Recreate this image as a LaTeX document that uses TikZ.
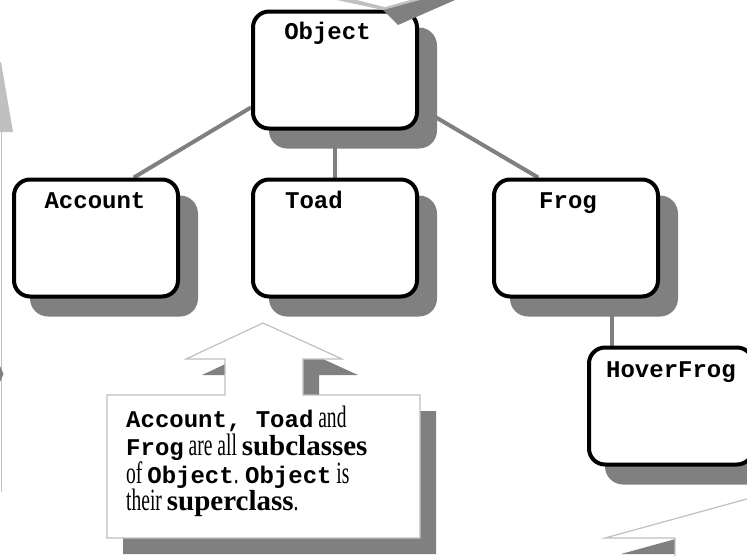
\documentclass[tikz,border=0pt]{standalone}
\usepackage{fontspec}
\usetikzlibrary{backgrounds,calc}
\newfontfamily\monofam{Liberation Mono}
\newfontfamily\cserif{Liberation Serif}[FakeStretch=0.63]
\newfontfamily\cserifb{Liberation Serif}
\newcommand\cmtt[1]{{\monofam\bfseries\fontsize{24}{28}\selectfont #1}}
\newcommand\cbfx[1]{{\cserifb\bfseries\fontsize{29}{30}\selectfont #1}}
\definecolor{shgray}{HTML}{808080}
\definecolor{ltgray}{HTML}{C0C0C0}
\tikzset{
  classbox/.style={draw=black, line width=4pt, rounded corners=16pt, fill=white,
    minimum width=164pt, minimum height=117pt, inner sep=0pt},
  shadowbox/.style={fill=shgray, draw=none, rounded corners=18pt,
    minimum width=168pt, minimum height=121pt, inner sep=0pt},
  conn/.style={draw=shgray, line width=4pt},
  classlabel/.style={font=\monofam\bfseries\fontsize{24}{28}\selectfont, anchor=base, inner sep=0pt},
  calloutshape/.style={fill=white, draw=ltgray, line width=1.2pt},
  calloutshadow/.style={fill=shgray, draw=none},
  calloutline/.style={font=\cserif\fontsize{31}{32}\selectfont, anchor=base west, inner sep=0pt},
}
\begin{document}
\begin{tikzpicture}[x=1pt,y=-1pt]
\clip (0,0) rectangle (747,555);

% class boxes
\node[classbox] (Object) at (335,70) {};
\node[classbox] (Account) at (96,238) {};
\node[classbox] (Toad) at (335,238) {};
\node[classbox] (Frog) at (576,238) {};
\node[classbox] (HoverFrog) at (671,406) {};

\begin{pgfonlayer}{background}
  \fill[white] (0,0) rectangle (747,555);
  \node[shadowbox] (sObject) at (353,88) {};
  \node[shadowbox] (sAccount) at (114,256) {};
  \node[shadowbox] (sToad) at (353,256) {};
  \node[shadowbox] (sFrog) at (594,256) {};
  \node[shadowbox] (sHoverFrog) at (689,424) {};
  \draw[conn] (Object.204) -- (Account.58);
  \draw[conn] (Object.south) -- (Toad.north);
  \draw[conn] (Object.336) -- (Frog.122);
  \draw[conn] ([xshift=36pt]Frog.south) -- ([xshift=36pt]Frog.south |- HoverFrog.north);
\end{pgfonlayer}

\node[classlabel] (lObject) at (327.5,39) {Object};
\node[classlabel] (lAccount) at (95,208) {Account};
\node[classlabel] (lToad) at (314,208) {Toad};
\node[classlabel] (lFrog) at (568,208) {Frog};
\node[classlabel] (lHoverFrog) at (671,377) {HoverFrog};

% main callout
\fill[calloutshadow] (123,411) -- (241,411) -- (241,375) -- (202,375) -- (279,339) -- (358,375)
  -- (319,375) -- (319,411) -- (436,411) -- (436,554) -- (123,554) -- cycle;
\draw[calloutshape] (107,395) -- (225,395) -- (225,359) -- (186,359) -- (263,323) -- (342,359)
  -- (303,359) -- (303,395) -- (420,395) -- (420,538) -- (107,538) -- cycle;
\node[calloutline] (c1) at (126,427) {\cmtt{Account, Toad} and};
\node[calloutline] (c2) at (126,455) {\cmtt{Frog} are all \cbfx{subclasses}};
\node[calloutline] (c3) at (126,483) {of \cmtt{Object}. \cmtt{Object} is};
\node[calloutline] (c4) at (126,510) {their \cbfx{superclass}.};

% bottom-right callout (clipped)
\fill[calloutshadow] (621,554) -- (781,510) -- (846,554) -- (776,554) -- (776,616) -- (691,616) -- (691,554) -- cycle;
\draw[calloutshape] (605,538) -- (765,494) -- (830,538) -- (760,538) -- (760,600) -- (675,600) -- (675,538) -- cycle;

% top callout fragment (clipped)
\fill[shgray] (365,0) -- (383,10) -- (398,25) -- (455,0) -- cycle;
\fill[ltgray] (337,0) -- (383,10) -- (420,0) -- cycle;
\fill[white] (357,0) -- (385,7) -- (410,0) -- cycle;

% left callout fragment (clipped)
\fill[ltgray] (0,62) -- (1,62) -- (13,132) -- (0,132) -- cycle;
\draw[ltgray, line width=1.5pt] (1.5,132) -- (1.5,492);
\fill[shgray] (0,366) -- (3.5,374) -- (0,382) -- cycle;
\end{tikzpicture}
\end{document}
